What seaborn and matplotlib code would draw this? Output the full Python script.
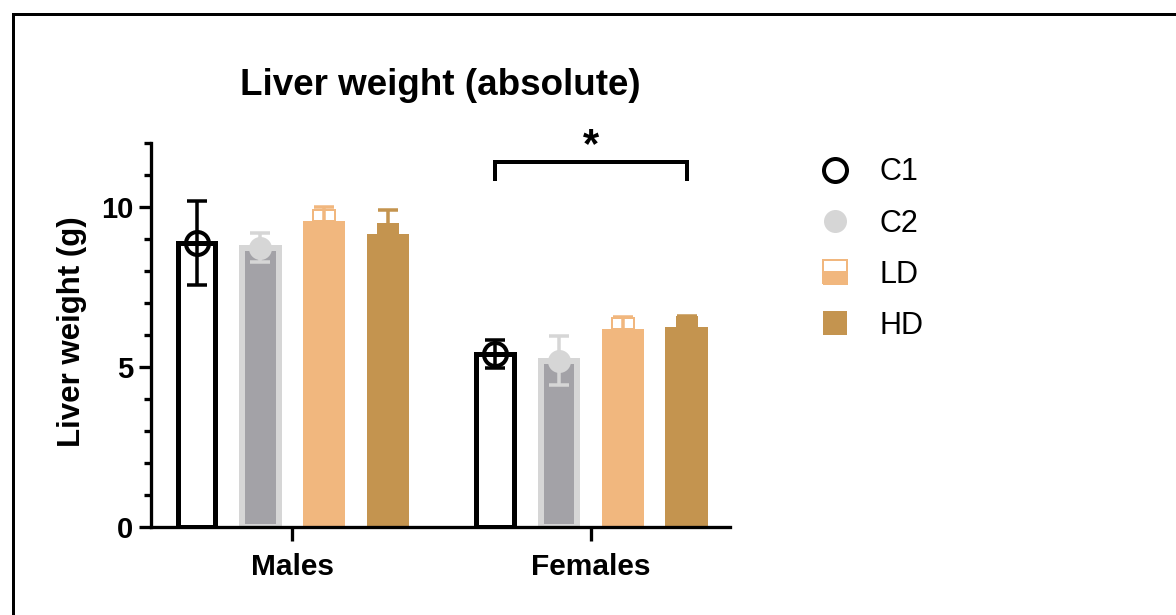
import numpy as np
import pandas as pd
import matplotlib
matplotlib.use("Agg")
import matplotlib.pyplot as plt
from matplotlib.lines import Line2D
from matplotlib.ticker import MultipleLocator
import seaborn as sns

# ---------------- data ----------------
sexes = ["Males", "Females"]
groups = ["C1", "C2", "LD", "HD"]
mean_males = [8.87, 8.73, 9.58, 9.15]
mean_females = [5.40, 5.20, 6.18, 6.24]
sd_males = [1.32, 0.45, 0.42, 0.76]
sd_females = [0.44, 0.76, 0.38, 0.35]
yticks = [0, 5, 10]
title = "Liver weight (absolute)"
ylabel = "Liver weight (g)"
sig_label = "*"
sig_low, sig_high = 10.82, 11.42

df = pd.DataFrame({
    "sex": np.repeat(sexes, len(groups)),
    "group": groups * len(sexes),
    "mean": mean_males + mean_females,
    "sd": sd_males + sd_females,
})

# ---------------- style ----------------
sns.set_theme(style="ticks")
plt.rcParams['font.family'] = ['Liberation Sans', 'DejaVu Sans']
plt.rcParams['text.color'] = 'black'

W, H = 1176, 615
fig = plt.figure(figsize=(W / 100, H / 100), dpi=100)
ax = fig.add_axes([151 / W, 1 - 526.7 / H, 579 / W, 383.4 / H])

fill = {"C1": "white", "C2": "#A3A2A7", "LD": "#F1B77E", "HD": "#C4944F"}
edge = {"C1": "black", "C2": "#D6D6D6", "LD": "#F1B77E", "HD": "#C4944F"}
edge_px = {"C1": 5, "C2": 6, "LD": 0, "HD": 0}
PT = 0.72  # points per pixel at 100 dpi

sns.barplot(data=df, x="sex", y="mean", hue="group", order=sexes,
            hue_order=groups, palette=fill, saturation=1, width=0.855,
            gap=0.334, errorbar=None, legend=False, ax=ax, zorder=2)

xmin, xmax = -0.473, 1.466
ax.set_xlim(xmin, xmax)
ax.set_ylim(0, 12)
px_per_x = 579 / (xmax - xmin)

marker_style = {
    "C1": dict(marker="o", ms=23 * PT, mfc="none", mec="black", mew=4 * PT),
    "C2": dict(marker="o", ms=23 * PT, mfc="#D6D6D6", mec="#D6D6D6", mew=0),
    "LD": dict(marker="s", ms=22 * PT, fillstyle="bottom", mfc="#F1B77E",
               markerfacecoloralt="white", mec="#F1B77E", mew=2 * PT),
    "HD": dict(marker="s", ms=22 * PT, mfc="#C4944F", mec="#C4944F", mew=0),
}

centers = {}
for g, cont in zip(groups, ax.containers):
    sub = df[df.group == g].set_index("sex").loc[sexes]
    xs, ys = [], []
    for p in cont.patches:
        lw = edge_px[g]
        p.set_facecolor(fill[g])
        p.set_edgecolor(edge[g])
        p.set_linewidth(lw * PT)
        if lw:
            d = lw / px_per_x
            p.set_x(p.get_x() + d / 2)
            p.set_width(p.get_width() - d)
        xs.append(p.get_x() + p.get_width() / 2)
        ys.append(p.get_height())
    centers[g] = xs
    ax.plot(xs, ys, ls="none", zorder=3, **marker_style[g])
    ax.errorbar(xs, ys, yerr=sub["sd"].values, fmt="none", ecolor=edge[g],
                elinewidth=3.5 * PT, capsize=10 * PT, capthick=3.5 * PT,
                zorder=4)

# significance bracket (Females: C1 vs HD)
x0, x1 = centers["C1"][1], centers["HD"][1]
ax.plot([x0, x0, x1, x1], [sig_low, sig_high, sig_high, sig_low],
        color="black", lw=4 * PT, clip_on=False, solid_joinstyle="miter",
        solid_capstyle="butt", zorder=5)
ax.text((x0 + x1) / 2, sig_high + 0.14, sig_label, ha="center", va="baseline",
        fontsize=30, fontweight="bold", color="black")

# axes styling
sns.despine(ax=ax)
for s in ["left", "bottom"]:
    ax.spines[s].set_linewidth(3.3 * PT)
    ax.spines[s].set_color("black")
ax.set_yticks(yticks)
ax.yaxis.set_minor_locator(MultipleLocator(1))
ax.tick_params(axis="y", which="major", length=12 * PT, width=3.3 * PT,
               color="black", pad=4, labelsize=21)
ax.tick_params(axis="y", which="minor", length=7 * PT, width=3.3 * PT,
               color="black")
ax.tick_params(axis="x", which="major", length=14 * PT, width=3.3 * PT,
               color="black", pad=9, labelsize=21.5)
for lab in ax.get_xticklabels() + ax.get_yticklabels():
    lab.set_fontweight("bold")
    lab.set_color("black")
ax.set_xlabel("")
ax.set_ylabel("")

fig.text(72 / W, 1 - 331.7 / H, ylabel, rotation=90, ha="center",
         va="center", fontsize=22.5, fontweight="bold", color="black")
fig.text(440.5 / W, 1 - 95 / H, title, ha="center", va="baseline",
         fontsize=26.5, fontweight="bold", color="black")

# legend
handles = [Line2D([], [], ls="none", **marker_style["C1"]),
           Line2D([], [], ls="none", **marker_style["C2"]),
           Line2D([], [], ls="none", **{**marker_style["LD"], "ms": 24 * PT}),
           Line2D([], [], ls="none", **{**marker_style["HD"], "ms": 24 * PT})]
leg = fig.legend(handles, groups, loc="upper left",
                 bbox_to_anchor=(820.4 / W, 1 - 157.5 / H), frameon=False,
                 fontsize=22, handlelength=0.95, handletextpad=1.0,
                 labelspacing=0.69, borderpad=0, borderaxespad=0)
for t in leg.get_texts():
    t.set_color("black")

# figure frame (partially cropped on the right and bottom)
fig.add_artist(Line2D([12.5 / W, 12.5 / W, 1.0], [0.0, 1 - 14 / H, 1 - 14 / H],
                      transform=fig.transFigure, color="black", lw=3 * PT,
                      solid_joinstyle="miter"))

fig.savefig("out.png", dpi=100)
